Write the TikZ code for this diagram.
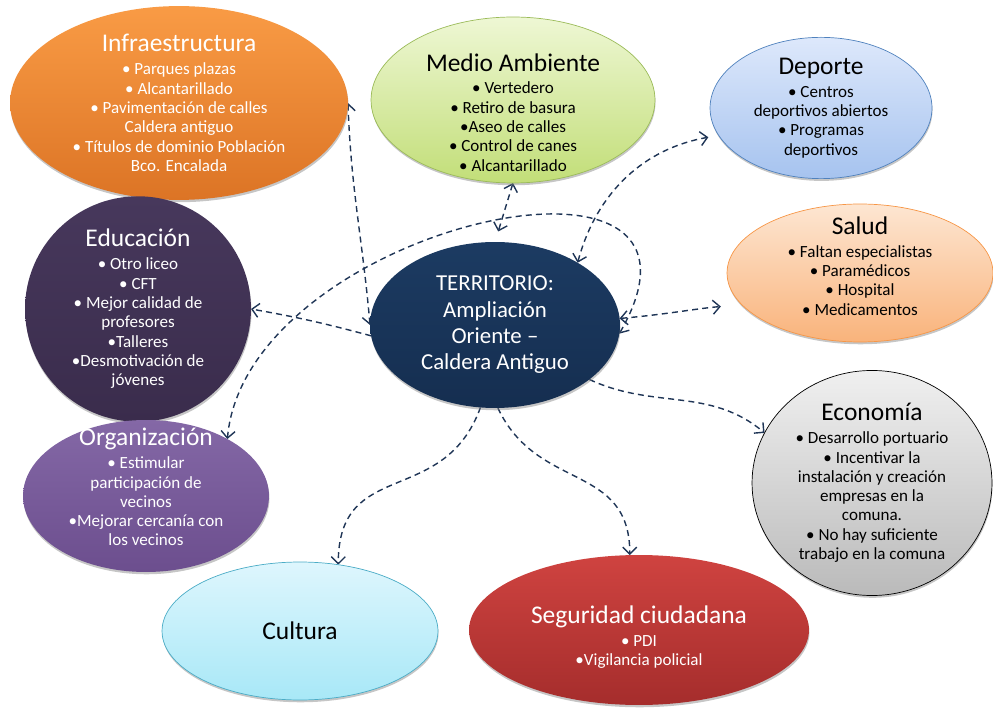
\documentclass[tikz,border=0pt]{standalone}
\usepackage{fontspec}
\setmainfont{Carlito}
\usetikzlibrary{arrows.meta, shapes.geometric, shadows, backgrounds}
\definecolor{LinkBlue}{HTML}{1F3556}
\definecolor{NavyTop}{HTML}{1C3B62}
\definecolor{NavyBot}{HTML}{152E50}
\definecolor{InfraTop}{HTML}{F99B45}
\definecolor{InfraBot}{HTML}{DC7425}
\definecolor{MedioTop}{HTML}{EEF7D4}
\definecolor{MedioBot}{HTML}{C2DE78}
\definecolor{MedioLine}{HTML}{9BBB59}
\definecolor{DepTop}{HTML}{DDE8FB}
\definecolor{DepBot}{HTML}{A6C3EF}
\definecolor{DepLine}{HTML}{4F81BD}
\definecolor{SaludTop}{HTML}{FDE6D2}
\definecolor{SaludBot}{HTML}{F9B37B}
\definecolor{SaludLine}{HTML}{F79646}
\definecolor{EducTop}{HTML}{47385C}
\definecolor{EducBot}{HTML}{3A2C4C}
\definecolor{OrgTop}{HTML}{8468A6}
\definecolor{OrgBot}{HTML}{6C4E8E}
\definecolor{CultTop}{HTML}{DEF6FD}
\definecolor{CultBot}{HTML}{A8E8F7}
\definecolor{CultLine}{HTML}{4BACC6}
\definecolor{SegTop}{HTML}{CF4340}
\definecolor{SegBot}{HTML}{A52D2C}
\newcommand{\titulo}[1]{{\fontsize{14.5}{16}\selectfont #1}\\[2pt]}

\begin{document}
\begin{tikzpicture}[
    x=0.02cm, y=0.02cm,
    >={Straight Barb[length=1.4mm, width=2.8mm]},
    tema/.style={ellipse, inner sep=0pt, outer sep=0pt, align=center,
        font=\fontsize{9.7}{11}\selectfont,
        drop shadow={shadow xshift=0.3pt, shadow yshift=-1.3pt, opacity=0.45}},
    centro/.style={tema, font=\fontsize{13}{15}\selectfont, text=white,
        top color=NavyTop, bottom color=NavyBot},
    etiqueta/.style={align=center, font=\fontsize{9.7}{11}\selectfont},
    enlace/.style={dash pattern=on 3.4pt off 2.4pt, line width=0.8pt, LinkBlue},
]
\useasboundingbox (0,0) rectangle (993,-715);

% nodos
\node[centro, minimum width=5cm, minimum height=3.32cm] (terr) at (495,-325)
    {TERRITORIO:\\Ampliación\\Oriente --\\Caldera Antiguo};
\node[tema, text=white, top color=InfraTop, bottom color=InfraBot,
      minimum width=6.76cm, minimum height=3.8cm] (infra) at (179,-103)
    {\titulo{Infraestructura}• Parques plazas\\• Alcantarillado\\• Pavimentación de calles\\Caldera antiguo\\• Títulos de dominio Población\\Bco. Encalada};
\node[tema, draw=MedioLine, top color=MedioTop, bottom color=MedioBot,
      minimum width=5.68cm, minimum height=3.32cm] (medio) at (513,-100) {};
\node[tema, draw=DepLine, top color=DepTop, bottom color=DepBot,
      minimum width=4.44cm, minimum height=2.8cm] (deporte) at (821,-108)
    {\titulo{Deporte}• Centros\\deportivos abiertos\\• Programas\\deportivos};
\node[tema, draw=SaludLine, top color=SaludTop, bottom color=SaludBot,
      minimum width=5.32cm, minimum height=2.76cm] (salud) at (860,-273) {};
\node[tema, text=white, top color=EducTop, bottom color=EducBot,
      minimum width=4.52cm, minimum height=3.36cm] (educ) at (138,-309)
    {\titulo{Educación}• Otro liceo\\• CFT\\• Mejor calidad de\\profesores\\•Talleres\\•Desmotivación de\\jóvenes};
\node[tema, top color=OrgTop, bottom color=OrgBot,
      minimum width=4.92cm, minimum height=3.04cm] (organ) at (146,-496) {};
\node[tema, draw=black, top color=black!6, bottom color=black!27,
      minimum width=4.8cm, minimum height=3.72cm] (econ) at (872,-483)
    {\titulo{Economía}• Desarrollo portuario\\• Incentivar la\\instalación y creación\\empresas en la\\comuna.\\• No hay suficiente\\trabajo en la comuna};
\node[tema, draw=CultLine, top color=CultTop, bottom color=CultBot,
      minimum width=5.52cm, minimum height=2.76cm] (cultura) at (300,-631)
    {{\fontsize{14.5}{16}\selectfont Cultura}};
\node[tema, top color=SegTop, bottom color=SegBot,
      minimum width=6.8cm, minimum height=3cm] (seg) at (639,-630) {};

% textos desplazados
\node[etiqueta] at ([yshift=-7pt]medio.center)
    {\titulo{Medio Ambiente}• Vertedero\\• Retiro de basura\\•Aseo de calles\\• Control de canes\\• Alcantarillado};
\node[etiqueta] at ([yshift=4pt]salud.center)
    {\titulo{Salud}• Faltan especialistas\\• Paramédicos\\• Hospital\\• Medicamentos};
\node[etiqueta, text=white] at ([yshift=5pt]organ.center)
    {\titulo{Organización}• Estimular\\participación de\\vecinos\\•Mejorar cercanía con\\los vecinos};
\node[etiqueta, text=white] at ([yshift=-4pt]seg.center)
    {\titulo{Seguridad ciudadana}• PDI\\•Vigilancia policial};

% enlaces
\begin{scope}[on background layer]
\draw[enlace, <->] (infra.east) to[out=-88, in=95] (terr.west);
\draw[enlace, <->, shorten >=2.2mm] (medio.south) -- (terr.north);
\draw[enlace, <->, shorten >=6pt] (terr.37) to[out=75, in=190] (deporte.195);
\draw[enlace, <->, shorten >=12pt] (terr.3) to[out=5, in=185] (salud.195);
\draw[enlace, <->] (terr.-4) to[out=60, in=85, out looseness=1.6, in looseness=1.35] (organ.35);
\draw[enlace, ->] (terr.185) to[out=165, in=-10] (educ.east);
\draw[enlace, ->] (terr.-30) to[out=-25, in=140] (econ.155);
\draw[enlace, ->] (terr.-100) to[out=-110, in=90, looseness=1.3] (cultura.60);
\draw[enlace, ->] (terr.-88) to[out=-65, in=90, looseness=1.2] (seg.97);
\end{scope}

\end{tikzpicture}
\end{document}
